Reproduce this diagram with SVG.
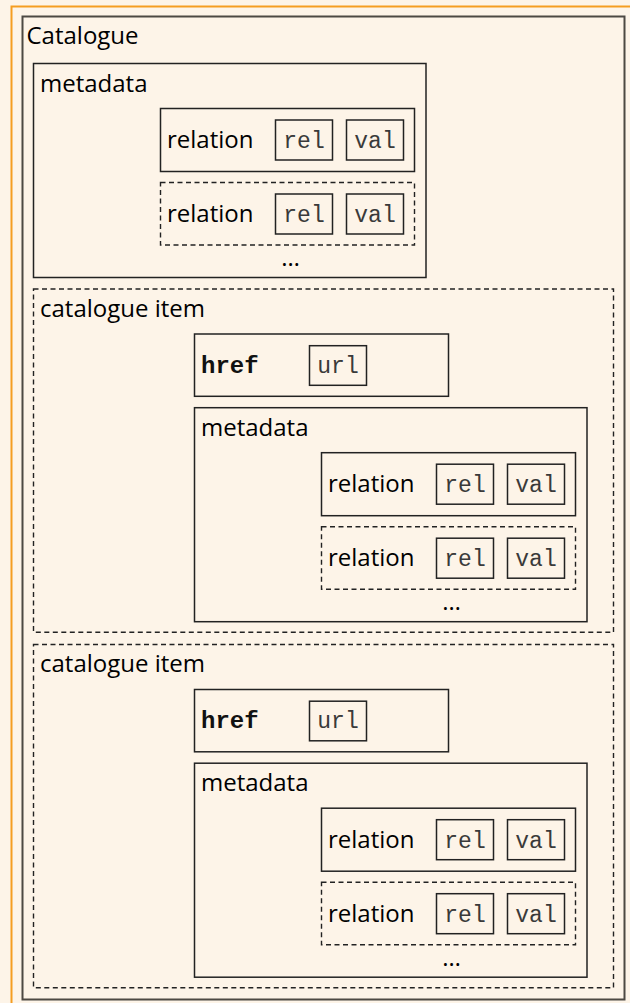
<svg xmlns="http://www.w3.org/2000/svg" width="630" height="1003" viewBox="0 0 630 1003">
<style>
.box{fill:none;stroke:#222;stroke-width:1.5}
.dash{fill:none;stroke:#222;stroke-width:1.4;stroke-dasharray:5 3.5}
.lbl{font-family:"Open Sans","Noto Sans",sans-serif;font-size:24px;fill:#000}
.mono{font-family:"Liberation Mono","Courier New",monospace;font-size:23px;fill:#3a3a3a;text-anchor:middle}
.monob{font-family:"Liberation Mono","Courier New",monospace;font-size:24px;font-weight:bold;fill:#111}
</style>
<rect x="0" y="0" width="630" height="1003" fill="#fdf4e8"/>
<rect x="11.5" y="6.5" width="660" height="1020" fill="none" stroke="#f59d21" stroke-width="2"/>
<g id="catalogue">
<rect x="22.5" y="16.5" width="602" height="983" fill="none" stroke="#4d4943" stroke-width="2"/>
<text class="lbl" x="26.5" y="44">Catalogue</text>
</g>
<g id="metadata-0" transform="translate(33.5,63.5)">
<rect class="box" width="392.5" height="214"/>
<text class="lbl" x="6.5" y="28.2">metadata</text>
<g id="relation-0a" transform="translate(127,45)">
<rect class="box" width="254" height="63"/>
<text class="lbl" x="6.5" y="39.6">relation</text>
<rect class="box" x="115" y="11.5" width="57" height="40"/>
<text class="mono" x="143.5" y="39.5">rel</text>
<rect class="box" x="186" y="11.5" width="57" height="40"/>
<text class="mono" x="214.5" y="39.5">val</text>
</g>
<g id="relation-0b" transform="translate(127,119)">
<rect class="dash" width="254" height="62.5"/>
<text class="lbl" x="6.5" y="39.6">relation</text>
<rect class="box" x="115" y="11.5" width="57" height="40"/>
<text class="mono" x="143.5" y="39.5">rel</text>
<rect class="box" x="186" y="11.5" width="57" height="40"/>
<text class="mono" x="214.5" y="39.5">val</text>
</g>
<text class="lbl" x="257" y="202.5" text-anchor="middle">…</text>
</g>
<g id="item-1" transform="translate(33.5,289)">
<rect class="dash" width="580" height="343.3"/>
<text class="lbl" x="6.5" y="27.7">catalogue item</text>
<g id="href-1" transform="translate(161,45)">
<rect class="box" width="254" height="62.3"/>
<text class="monob" x="6.5" y="38.7">href</text>
<rect class="box" x="115" y="11.7" width="57" height="39.6"/>
<text class="mono" x="143.5" y="38.5">url</text>
</g>
<g id="metadata-1" transform="translate(161,118.7)">
<rect class="box" width="392.5" height="214"/>
<text class="lbl" x="6.5" y="28.2">metadata</text>
<g id="relation-1a" transform="translate(127,45)">
<rect class="box" width="254" height="63"/>
<text class="lbl" x="6.5" y="39.6">relation</text>
<rect class="box" x="115" y="11.5" width="57" height="40"/>
<text class="mono" x="143.5" y="39.5">rel</text>
<rect class="box" x="186" y="11.5" width="57" height="40"/>
<text class="mono" x="214.5" y="39.5">val</text>
</g>
<g id="relation-1b" transform="translate(127,119)">
<rect class="dash" width="254" height="62.5"/>
<text class="lbl" x="6.5" y="39.6">relation</text>
<rect class="box" x="115" y="11.5" width="57" height="40"/>
<text class="mono" x="143.5" y="39.5">rel</text>
<rect class="box" x="186" y="11.5" width="57" height="40"/>
<text class="mono" x="214.5" y="39.5">val</text>
</g>
<text class="lbl" x="257" y="202.5" text-anchor="middle">…</text>
</g>
</g>
<g id="item-2" transform="translate(33.5,644.5)">
<rect class="dash" width="580" height="343.3"/>
<text class="lbl" x="6.5" y="27.7">catalogue item</text>
<g id="href-2" transform="translate(161,45)">
<rect class="box" width="254" height="62.3"/>
<text class="monob" x="6.5" y="38.7">href</text>
<rect class="box" x="115" y="11.7" width="57" height="39.6"/>
<text class="mono" x="143.5" y="38.5">url</text>
</g>
<g id="metadata-2" transform="translate(161,118.7)">
<rect class="box" width="392.5" height="214"/>
<text class="lbl" x="6.5" y="28.2">metadata</text>
<g id="relation-2a" transform="translate(127,45)">
<rect class="box" width="254" height="63"/>
<text class="lbl" x="6.5" y="39.6">relation</text>
<rect class="box" x="115" y="11.5" width="57" height="40"/>
<text class="mono" x="143.5" y="39.5">rel</text>
<rect class="box" x="186" y="11.5" width="57" height="40"/>
<text class="mono" x="214.5" y="39.5">val</text>
</g>
<g id="relation-2b" transform="translate(127,119)">
<rect class="dash" width="254" height="62.5"/>
<text class="lbl" x="6.5" y="39.6">relation</text>
<rect class="box" x="115" y="11.5" width="57" height="40"/>
<text class="mono" x="143.5" y="39.5">rel</text>
<rect class="box" x="186" y="11.5" width="57" height="40"/>
<text class="mono" x="214.5" y="39.5">val</text>
</g>
<text class="lbl" x="257" y="202.5" text-anchor="middle">…</text>
</g>
</g>
<g id="connectors"/>
</svg>
